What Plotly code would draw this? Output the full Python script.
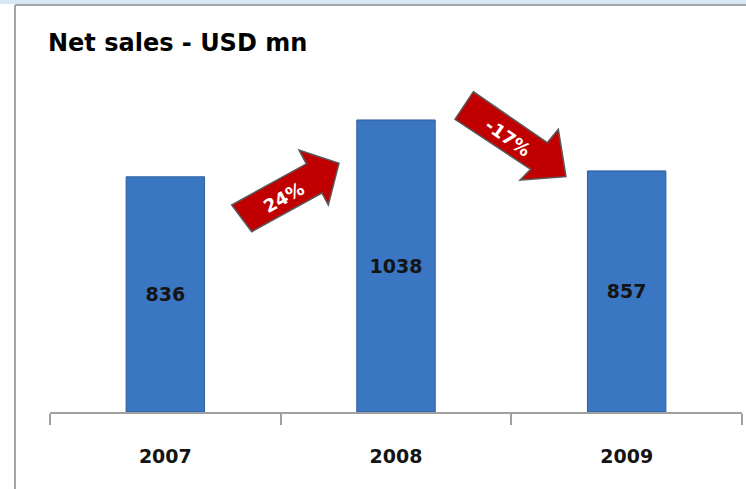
import plotly.graph_objects as go

W, H = 746, 489

years = ['2007', '2008', '2009']
sales = [836, 1038, 857]
changes = ['24%', '-17%']
title = 'Net sales - USD mn'

def px(x):
    return x / W

def py(y):
    return 1 - y / H

def path(pts):
    s = 'M ' + ' L '.join('%.4f,%.4f' % (px(x), py(y)) for x, y in pts)
    return s + ' Z'

fig = go.Figure()
fig.add_trace(go.Bar(
    x=years, y=sales, text=[str(v) for v in sales],
    textposition='inside', insidetextanchor='middle', textangle=0,
    textfont=dict(family='DejaVu Sans', size=19, color='#141414', weight='bold'),
    marker=dict(color='#3B76C2', line=dict(color='#2D5E9E', width=1)),
    width=0.34, hoverinfo='skip'))

# arrows (pixel outlines)
arrow_up = [(231.7, 205), (306.4, 163.8), (299, 150), (339, 163.3),
            (328.3, 205), (321.9, 193), (251.7, 231.7)]
arrow_down = [(473.3, 91.7), (547.3, 142.7), (558.3, 129.3), (566, 176.7),
              (520, 180), (530.7, 169.3), (455, 119.3)]
shapes = []
for a in (arrow_up, arrow_down):
    shapes.append(dict(type='path', xref='paper', yref='paper', path=path(a), layer='below',
                       fillcolor='#C00000', line=dict(color='#595959', width=1.5)))

# frame
shapes.append(dict(type='rect', xref='paper', yref='paper', x0=0, x1=1, y0=py(4), y1=1,
                   fillcolor='#D6E8F4', line=dict(width=0), layer='below'))
shapes.append(dict(type='line', xref='paper', yref='paper', x0=px(15), x1=1, y0=py(5), y1=py(5),
                   line=dict(color='#A6A6A6', width=2)))
shapes.append(dict(type='line', xref='paper', yref='paper', x0=px(15), x1=px(15), y0=py(5), y1=0,
                   line=dict(color='#A6A6A6', width=2)))

arrow_font = dict(family='DejaVu Sans', size=18, color='white', weight='bold')
annotations = [
    dict(text=title, xref='paper', yref='paper', x=px(46), y=py(43), xanchor='left', yanchor='middle',
         showarrow=False, font=dict(family='DejaVu Sans', size=24, color='#000000', weight='bold')),
    dict(text=changes[0], xref='paper', yref='paper', x=px(283.3), y=py(197), textangle=-29,
         xanchor='center', yanchor='middle', showarrow=False, font=arrow_font),
    dict(text=changes[1], xref='paper', yref='paper', x=px(508.3), y=py(137), textangle=35,
         xanchor='center', yanchor='middle', showarrow=False, font=arrow_font),
]

fig.update_layout(
    width=W, height=H, margin=dict(l=0, r=0, t=0, b=0),
    paper_bgcolor='white', plot_bgcolor='white', showlegend=False,
    shapes=shapes, annotations=annotations,
    xaxis=dict(domain=[px(50), px(742)], type='category', tickson='boundaries',
               ticks='outside', ticklen=11, tickcolor='#A0A0A0', tickwidth=1.5,
               showline=True, linecolor='#A0A0A0', linewidth=1.5, showgrid=False,
               automargin=False, ticklabelstandoff=26,
               tickfont=dict(family='DejaVu Sans', size=19, color='#141414', weight='bold')),
    yaxis=dict(domain=[py(412), py(74.4)], range=[0, 1200], visible=False, showgrid=False),
)

fig.write_html('out.html', config={'displayModeBar': False},
               post_script="document.body.style.margin='0';")
